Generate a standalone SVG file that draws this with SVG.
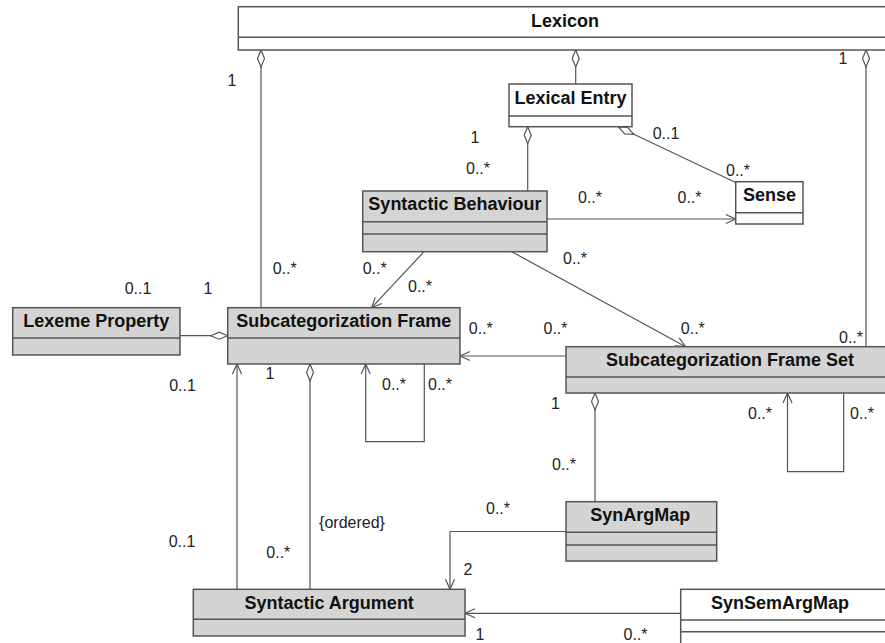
<svg xmlns="http://www.w3.org/2000/svg" width="885" height="643" viewBox="0 0 885 643">
<defs>
<style>
.box{stroke:#555;stroke-width:1.5}
.g{fill:#d4d4d4}
.w{fill:#fff}
.dv{stroke:#555;stroke-width:1.5}
.t{font-family:"Liberation Sans",Arial,sans-serif;font-weight:bold;font-size:18px;fill:#111;text-anchor:middle}
.l{font-family:"Liberation Sans",Arial,sans-serif;font-size:16px;fill:#222;text-anchor:middle}
.c{fill:none;stroke:#555;stroke-width:1.2}
</style>
<marker id="dia" markerWidth="20" markerHeight="10" refX="0" refY="0" orient="auto" markerUnits="userSpaceOnUse" overflow="visible">
<path d="M0,0 L8.5,-3.5 L17,0 L8.5,3.5 Z" fill="#fff" stroke="#555" stroke-width="1.2"/>
</marker>
<marker id="arr" markerWidth="12" markerHeight="12" refX="0" refY="0" orient="auto" markerUnits="userSpaceOnUse" overflow="visible">
<path d="M-10,-4.5 L0,0 L-10,4.5" fill="none" stroke="#555" stroke-width="1.2"/>
</marker>
</defs>
<rect width="885" height="643" fill="#fff"/>

<g id="connectors">
<path class="c" d="M261,50 L261,307.7" marker-start="url(#dia)"/>
<path class="c" d="M575.7,50 L575.7,84" marker-start="url(#dia)"/>
<path class="c" d="M866,50 L866,346.7" marker-start="url(#dia)"/>
<path class="c" d="M527.7,126.7 L527.7,191" marker-start="url(#dia)"/>
<path class="c" d="M618.5,127 L735.7,182.5" marker-start="url(#dia)"/>
<path class="c" d="M547,219 L735.7,219" marker-end="url(#arr)"/>
<path class="c" d="M424,251.7 L371.7,307.7" marker-end="url(#arr)"/>
<path class="c" d="M511.7,251.7 L685.7,346.7" marker-end="url(#arr)"/>
<path class="c" d="M227.7,335.7 L180,335.7" marker-start="url(#dia)"/>
<path class="c" d="M566,356 L460,356" marker-end="url(#arr)"/>
<path class="c" d="M237,589.3 L237,364" marker-end="url(#arr)"/>
<path class="c" d="M310,364 L310,589.3" marker-start="url(#dia)"/>
<path class="c" d="M424.3,364 L424.3,441.7 L365.7,441.7 L365.7,364" marker-end="url(#arr)"/>
<path class="c" d="M595,393 L595,501.7" marker-start="url(#dia)"/>
<path class="c" d="M843.7,393 L843.7,471.7 L787.5,471.7 L787.5,393" marker-end="url(#arr)"/>
<path class="c" d="M566,531.5 L450,531.5 L450,589.3" marker-end="url(#arr)"/>
<path class="c" d="M680.7,613.3 L465,613.3" marker-end="url(#arr)"/>
</g>

<g id="lexicon">
<rect class="box w" x="238.3" y="6.7" width="660" height="43.3"/>
<line class="dv" x1="238.3" y1="37.3" x2="898" y2="37.3"/>
<text class="t" x="565" y="26.5">Lexicon</text>
</g>

<g id="lexical-entry">
<rect class="box w" x="509" y="84" width="123" height="42.7"/>
<line class="dv" x1="509" y1="116" x2="632" y2="116"/>
<text class="t" x="570.5" y="103.5">Lexical Entry</text>
</g>

<g id="sense">
<rect class="box w" x="735.7" y="181.7" width="67.3" height="42.3"/>
<line class="dv" x1="735.7" y1="212.7" x2="803" y2="212.7"/>
<text class="t" x="769.4" y="201">Sense</text>
</g>

<g id="syntactic-behaviour">
<rect class="box g" x="362.7" y="191" width="184.3" height="60.7"/>
<line class="dv" x1="362.7" y1="221.7" x2="547" y2="221.7"/>
<line class="dv" x1="362.7" y1="234" x2="547" y2="234"/>
<text class="t" x="454.9" y="210.3">Syntactic Behaviour</text>
</g>

<g id="lexeme-property">
<rect class="box g" x="12.7" y="307.7" width="167.3" height="47.3"/>
<line class="dv" x1="12.7" y1="338" x2="180" y2="338"/>
<text class="t" x="96.3" y="327">Lexeme Property</text>
</g>

<g id="subcategorization-frame">
<rect class="box g" x="227.7" y="307.7" width="232.3" height="56.3"/>
<line class="dv" x1="227.7" y1="338" x2="460" y2="338"/>
<text class="t" x="343.8" y="327">Subcategorization Frame</text>
</g>

<g id="subcategorization-frame-set">
<rect class="box g" x="566" y="346.7" width="330" height="46.3"/>
<line class="dv" x1="566" y1="377" x2="896" y2="377"/>
<text class="t" x="730" y="366">Subcategorization Frame Set</text>
</g>

<g id="synargmap">
<rect class="box g" x="566" y="501.7" width="150.7" height="59.3"/>
<line class="dv" x1="566" y1="532.3" x2="716.7" y2="532.3"/>
<line class="dv" x1="566" y1="545" x2="716.7" y2="545"/>
<text class="t" x="640.3" y="521">SynArgMap</text>
</g>

<g id="syntactic-argument">
<rect class="box g" x="193.3" y="589.3" width="271.7" height="46.7"/>
<line class="dv" x1="193.3" y1="619.3" x2="465" y2="619.3"/>
<text class="t" x="329.2" y="608.8">Syntactic Argument</text>
</g>

<g id="synsemargmap">
<rect class="box w" x="680.7" y="589.3" width="220" height="70"/>
<line class="dv" x1="680.7" y1="620" x2="900" y2="620"/>
<line class="dv" x1="680.7" y1="631.7" x2="900" y2="631.7"/>
<text class="t" x="780" y="608.8">SynSemArgMap</text>
</g>

<g id="labels">
<text class="l" x="232" y="86">1</text>
<text class="l" x="843" y="64">1</text>
<text class="l" x="475" y="143">1</text>
<text class="l" x="478" y="174">0..*</text>
<text class="l" x="666" y="139">0..1</text>
<text class="l" x="738" y="176">0..*</text>
<text class="l" x="590" y="203">0..*</text>
<text class="l" x="689.5" y="203">0..*</text>
<text class="l" x="284.7" y="274">0..*</text>
<text class="l" x="374.7" y="274">0..*</text>
<text class="l" x="420" y="292">0..*</text>
<text class="l" x="575" y="264">0..*</text>
<text class="l" x="208" y="294">1</text>
<text class="l" x="138" y="294">0..1</text>
<text class="l" x="480.8" y="334">0..*</text>
<text class="l" x="555.5" y="334">0..*</text>
<text class="l" x="692.8" y="334">0..*</text>
<text class="l" x="851" y="342.5">0..*</text>
<text class="l" x="270" y="379">1</text>
<text class="l" x="182.5" y="391">0..1</text>
<text class="l" x="394" y="389.5">0..*</text>
<text class="l" x="440" y="389.5">0..*</text>
<text class="l" x="555.5" y="408.5">1</text>
<text class="l" x="760" y="419.3">0..*</text>
<text class="l" x="862" y="419.3">0..*</text>
<text class="l" x="564" y="470">0..*</text>
<text class="l" x="352" y="527.5">{ordered}</text>
<text class="l" x="278.3" y="558">0..*</text>
<text class="l" x="182" y="547">0..1</text>
<text class="l" x="468" y="575">2</text>
<text class="l" x="498" y="514">0..*</text>
<text class="l" x="480" y="640">1</text>
<text class="l" x="635.5" y="640">0..*</text>
</g>
</svg>
